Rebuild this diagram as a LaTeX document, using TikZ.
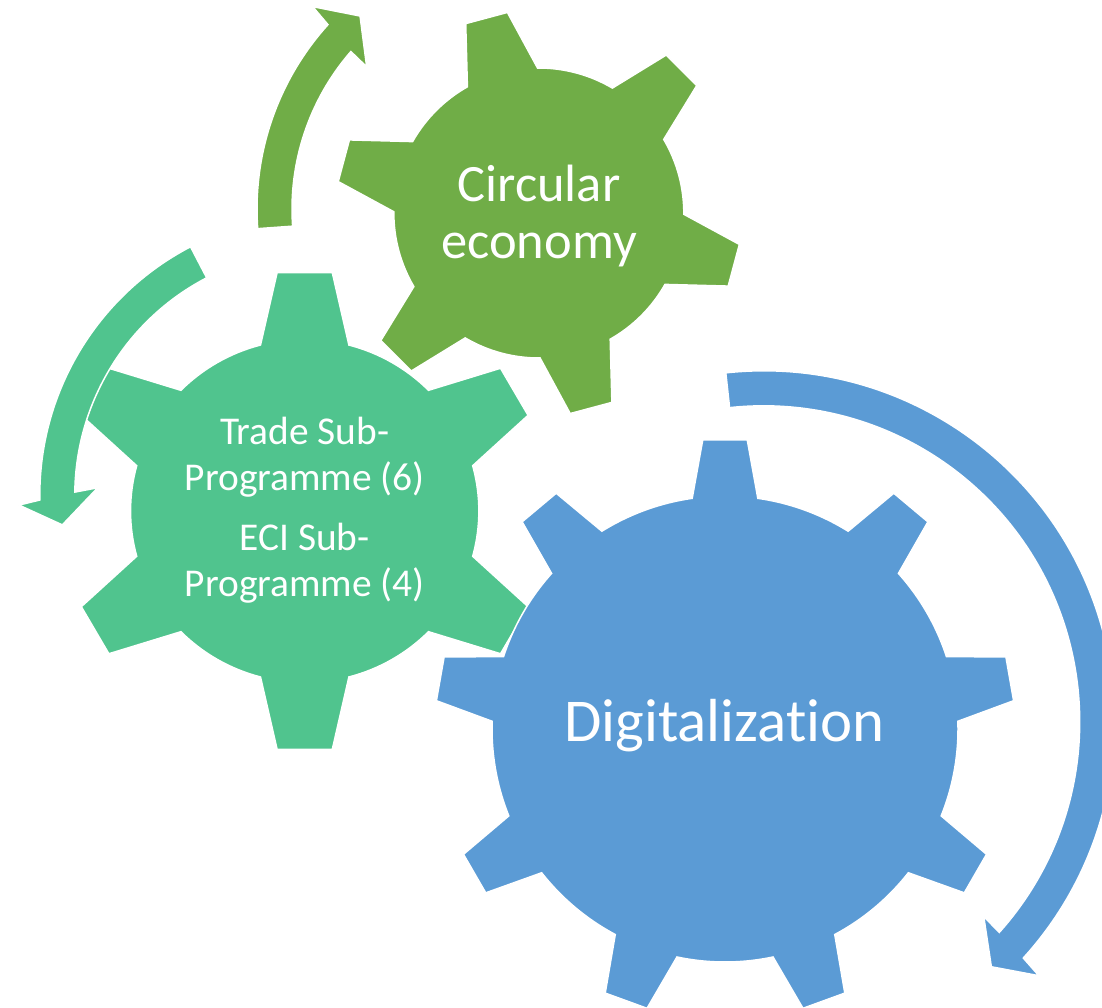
\documentclass[tikz,border=0pt]{standalone}
\usepackage{fontspec}
\setmainfont{Carlito}[Ligatures=NoCommon]

\definecolor{gearblue}{HTML}{5B9BD5}
\definecolor{gearolive}{HTML}{70AD47}
\definecolor{gearteal}{HTML}{50C48E}

% Gear outline: #1 teeth, #2 body radius, #3 tip radius,
% #4 half angle at the foot of a tooth, #5 half angle at its tip, #6 angle of the first tooth
\newcommand{\gearpath}[6]{%
  ({#6-#4}:#2) \foreach \k in {1,...,#1}{
    -- ({#6+360*(\k-1)/#1-#5}:#3) -- ({#6+360*(\k-1)/#1+#5}:#3)
    -- ({#6+360*(\k-1)/#1+#4}:#2)
    arc[start angle={#6+360*(\k-1)/#1+#4}, end angle={#6+360*\k/#1-#4}, radius=#2]
  } -- cycle}

\begin{document}
\begin{tikzpicture}[x=1pt,y=1pt,
    gearshape/.style={draw=white, line width=1.5pt},
    gearlabel/.style={text=white, align=center, inner sep=0pt}]
\useasboundingbox (0,0) rectangle (1102,-1008);
\clip (0,0) rectangle (1102,-1008);

% Centres of the gears and of the arrows round them
\coordinate (gTrade) at (304.7,-511);
\coordinate (gCircular) at (538.8,-213);
\coordinate (gDigital) at (725,-729);
\coordinate (aTrade) at (319.8,-495.1);
\coordinate (aCircular) at (532,-209);
\coordinate (aDigital) at (763.7,-721.8);

% Gears
\path[gearshape, fill=gearteal, shift={(gTrade)}, xscale=1.015] \gearpath{6}{171.6}{240}{14.7}{6.5}{90};
\path[gearshape, fill=gearolive, shift={(gCircular)}] \gearpath{6}{145}{203}{14.5}{6.1}{105};
\path[gearshape, fill=gearblue, shift={(gDigital)}] \gearpath{9}{233}{290}{8.1}{4.4}{90};

% Circular arrows
\path[gearshape, fill=gearteal, shift={(aTrade)}]
  (117.5:280) arc[start angle=117.5, end angle=181, radius=280]
  -- (181.9:301) -- (186.6:259.2) -- (178.1:222.2)
  -- (179.3:245) arc[start angle=179.3, end angle=117.5, radius=245] -- cycle;
\path[gearshape, fill=gearolive, shift={(aCircular)}]
  (184.1:275) arc[start angle=184.1, end angle=137.9, radius=275]
  -- (137.3:298.4) -- (131.7:258.5) -- (139.3:218.1)
  -- (139:240) arc[start angle=139, end angle=184.1, radius=240] -- cycle;
\path[gearshape, fill=gearblue, shift={(aDigital)}]
  (96.2:351) arc[start angle=96.2, end angle=-42.3, radius=351]
  -- (-42.7:374.4) -- (-47.1:334.4) -- (-41.5:293.8)
  -- (-41.8:316) arc[start angle=-41.8, end angle=96.2, radius=316] -- cycle;

% Labels (base = baseline of the last line)
\node[gearlabel, font=\fontsize{39.4}{46}\selectfont, anchor=base] (tTrade) at (304.7,-596.7)
  {Trade Sub-\\Programme (6)\\[14pt]ECI Sub-\\Programme (4)};
\node[gearlabel, font=\fontsize{52.5}{57}\selectfont, anchor=base] (tCircular) at (539,-258.9)
  {Circular\\economy};
\node[gearlabel, font=\fontsize{60.8}{70}\selectfont, anchor=base] (tDigital) at (724.4,-741)
  {Digitalization};
\end{tikzpicture}
\end{document}
